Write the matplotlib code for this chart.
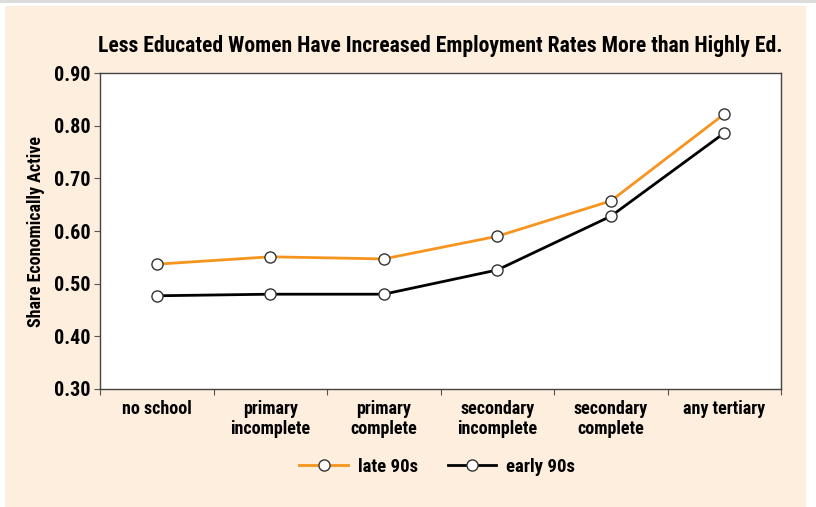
import matplotlib.pyplot as plt
from matplotlib.patches import Rectangle

categories = ["no school", "primary\nincomplete", "primary\ncomplete",
              "secondary\nincomplete", "secondary\ncomplete", "any tertiary"]
late_90s = [0.537, 0.551, 0.547, 0.590, 0.657, 0.822]
early_90s = [0.477, 0.480, 0.480, 0.526, 0.628, 0.786]
y_ticks = [0.30, 0.40, 0.50, 0.60, 0.70, 0.80, 0.90]

plt.rcParams["font.family"] = ["Roboto Condensed", "DejaVu Sans"]
plt.rcParams["font.weight"] = "bold"

peach = "#fdeedd"
fig = plt.figure(figsize=(8.16, 5.07), dpi=100)
fig.patch.set_facecolor("white")
W, H = 816, 507
fig.add_artist(Rectangle((0, 1 - 3 / H), 1, 3 / H, transform=fig.transFigure,
                         facecolor="#dcdcdc", edgecolor="none", zorder=-2))
fig.add_artist(Rectangle((5 / W, 0), 801 / W, 1 - 6 / H, transform=fig.transFigure,
                         facecolor=peach, edgecolor="none", zorder=-2))

ax = fig.add_axes([100 / W, 1 - 389 / H, 681 / W, 316 / H])
x = range(len(categories))
ax.plot(x, late_90s, color="#f7941d", lw=2, marker="o", ms=8,
        mfc="white", mec="#333333", mew=1, label="late 90s")
ax.plot(x, early_90s, color="black", lw=2, marker="o", ms=8,
        mfc="white", mec="#333333", mew=1, label="early 90s")

ax.set_xlim(-0.5, len(categories) - 0.5)
ax.set_ylim(0.30, 0.90)
ax.set_yticks(y_ticks)
ax.set_yticklabels([f"{v:.2f}" for v in y_ticks], fontsize=14.5, fontweight="bold")
ax.set_xticks([i + 0.5 for i in range(-1, len(categories))])
ax.set_xticklabels([])
ax.set_xticks(list(x), minor=True)
ax.set_xticklabels(categories, minor=True, fontsize=13, fontweight="bold",
                   linespacing=1.15)
ax.tick_params(axis="x", which="minor", length=0, pad=8)
ax.tick_params(axis="x", which="major", length=4, color="#555555")
ax.tick_params(axis="y", length=4, color="#555555", pad=3)
for s in ax.spines.values():
    s.set_color("#444444")
    s.set_linewidth(1)

ax.set_ylabel("Share Economically Active", fontsize=13, fontweight="bold", labelpad=6)
ax.set_title("Less Educated Women Have Increased Employment Rates More than Highly Ed.",
             fontsize=15.6, fontweight="bold", pad=15, x=0.5)

fig.legend(loc="center", bbox_to_anchor=(437 / W, 1 - 467 / H), ncol=2,
           frameon=False, fontsize=13.5, handlelength=2.6, columnspacing=1.6,
           handletextpad=0.5)

fig.savefig("out.png", dpi=100, facecolor=fig.get_facecolor())
